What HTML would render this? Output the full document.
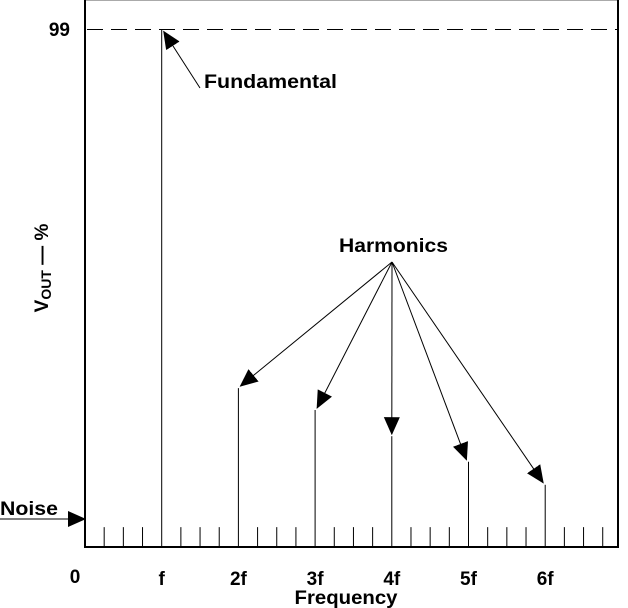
<!DOCTYPE html>
<html><head><meta charset="utf-8"><style>
html,body{margin:0;padding:0;background:#fff}
svg{display:block;font-family:"Liberation Sans",Arial,sans-serif;font-weight:bold}
</style></head><body>
<svg id="chart" width="628" height="608" viewBox="0 0 628 608" xmlns="http://www.w3.org/2000/svg">
<defs>
<marker id="ahb" markerWidth="18" markerHeight="18" refX="17" refY="9" orient="auto" markerUnits="userSpaceOnUse" viewBox="0 0 18 18"><path d="M0,1 L18,9 L0,17 z" fill="#000"/></marker></defs>
<g id="frame"></g>
<g id="marks"></g>
<g id="labels"></g>
</svg>
<script>
const categories = ['f','2f','3f','4f','5f','6f'];
const values = [99, 30.4, 26.2, 21.2, 16.3, 11.9];
const noiseLevel = 3.8;
const refLevel = 99;
const NS='http://www.w3.org/2000/svg';
const X0=85, X1=618, Y0=547, Yref=29.5;
const step=76.7;
function xScale(i){return X0+step*(i+1);}
function xMinor(k){return X0+step*k/4;}
function yScale(v){return Y0-(Y0-Yref)*v/99;}
function mk(tag,attrs,parent){const e=document.createElementNS(NS,tag);for(const k in attrs)e.setAttribute(k,attrs[k]);parent.appendChild(e);return e;}
const frame=document.getElementById('frame'),marks=document.getElementById('marks'),labels=document.getElementById('labels');

let e=mk('line',{x1:X0,y1:0.5,x2:X1,y2:0.5,stroke:'#aaa','stroke-width':1},frame);


e=mk('line',{x1:X0,y1:0,x2:X0,y2:Y0+1,stroke:'#000','stroke-width':2},frame);


e=mk('line',{x1:X1,y1:0,x2:X1,y2:Y0+1,stroke:'#000','stroke-width':2},frame);


e=mk('line',{x1:X0,y1:Y0,x2:X1,y2:Y0,stroke:'#000','stroke-width':2},frame);


e=mk('line',{x1:X0+2,y1:yScale(refLevel),x2:X1,y2:yScale(refLevel),stroke:'#000','stroke-width':1,'stroke-dasharray':'16,8'},frame);



for(let k=1;k<28;k++){
  if(k%4===0 && k/4-1<categories.length) continue;
  const t=mk('line',{x1:xMinor(k),y1:yScale(noiseLevel),x2:xMinor(k),y2:Y0,stroke:'#000','stroke-width':1},marks);
  
  
}
values.forEach((v,i)=>{
  const l=mk('line',{x1:xScale(i),y1:yScale(v),x2:xScale(i),y2:Y0,stroke:'#000','stroke-width':1},marks);
  
  
  const t=mk('text',{x:xScale(i),y:585,'font-size':19,'text-anchor':'middle'},labels);
  t.textContent=categories[i];
  
  
});
const ax=392, ay=262;
values.forEach((v,i)=>{
  if(i===0) return;
  const a=mk('line',{x1:ax,y1:ay,x2:xScale(i)+(i<3?2:i===3?0:-2),y2:yScale(v)-2,stroke:'#000','stroke-width':1,'marker-end':'url(#ahb)'},marks);
  
  
});
e=mk('line',{x1:200,y1:88,x2:xScale(0)+2,y2:yScale(values[0])+2,stroke:'#000','stroke-width':1,'marker-end':'url(#ahb)'},marks);


e=mk('line',{x1:0,y1:519,x2:X0,y2:519,stroke:'#000','stroke-width':1,'marker-end':'url(#ahb)'},marks);



function txt(s,attrs,name){const t=mk('text',attrs,labels);t.textContent=s;return t;}
txt('99',{x:70,y:36,'font-size':19,'text-anchor':'end'},'y-tick-99');
txt('0',{x:75,y:583,'font-size':19,'text-anchor':'middle'},'x-tick-0');
txt('Fundamental',{x:204,y:88,'font-size':19,textLength:133,lengthAdjust:'spacingAndGlyphs'},'fundamental-label');
txt('Harmonics',{x:339,y:252,'font-size':19,textLength:109,lengthAdjust:'spacingAndGlyphs'},'harmonics-label');
txt('Noise',{x:0,y:515,'font-size':19,textLength:58,lengthAdjust:'spacingAndGlyphs'},'noise-label');
txt('Frequency',{x:346,y:604,'font-size':19,'text-anchor':'middle',textLength:103,lengthAdjust:'spacingAndGlyphs'},'x-axis-title');
const yt=mk('text',{x:0,y:0,'font-size':19,'text-anchor':'middle',transform:'translate(48,268) rotate(-90)'},labels);
yt.innerHTML='V<tspan font-size="14" dy="3">OUT</tspan><tspan dy="-3"> — %</tspan>';


</script>
</body></html>
